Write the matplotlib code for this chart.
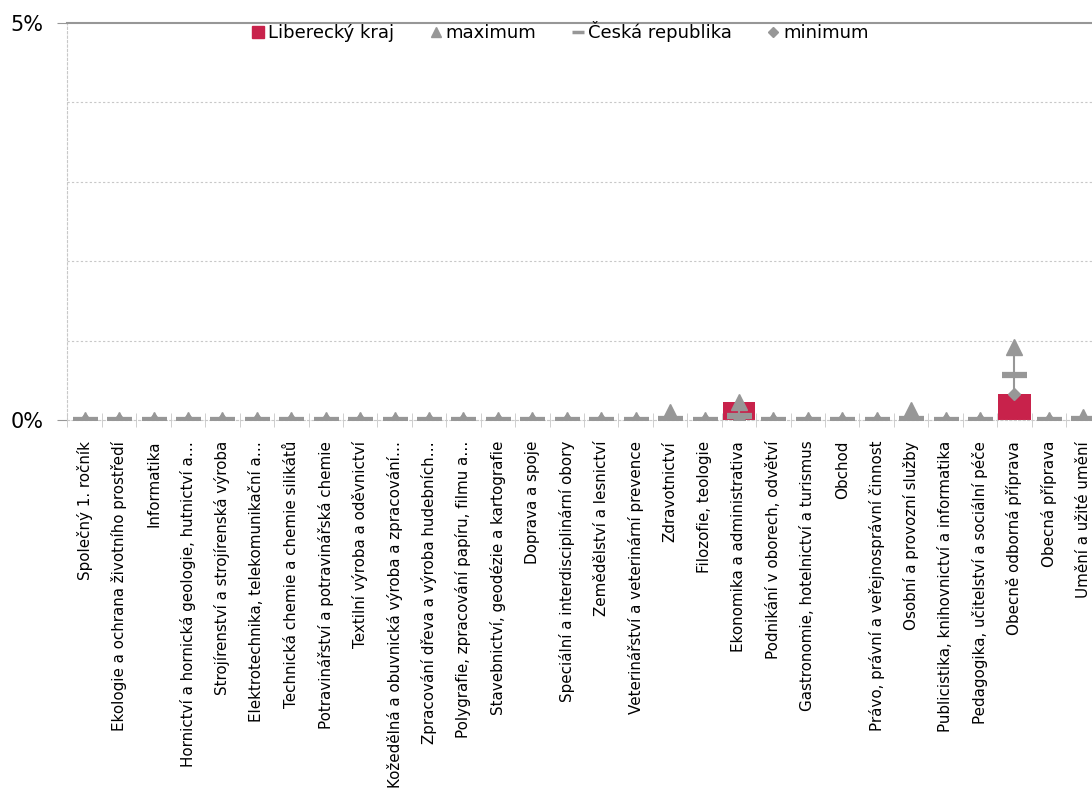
import numpy as np
import matplotlib
matplotlib.use("Agg")
import matplotlib.pyplot as plt
from matplotlib.lines import Line2D
from matplotlib.ticker import FixedLocator, FuncFormatter

obory = [
    "Společný 1. ročník",
    "Ekologie a ochrana životního prostředí",
    "Informatika",
    "Hornictví a hornická geologie, hutnictví a…",
    "Strojírenství a strojírenská výroba",
    "Elektrotechnika, telekomunikační a…",
    "Technická chemie a chemie silikátů",
    "Potravinářství a potravinářská chemie",
    "Textilní výroba a oděvnictví",
    "Kožedělná a obuvnická výroba a zpracování…",
    "Zpracování dřeva a výroba hudebních…",
    "Polygrafie, zpracování papíru, filmu a…",
    "Stavebnictví, geodézie a kartografie",
    "Doprava a spoje",
    "Speciální a interdisciplinární obory",
    "Zemědělství a lesnictví",
    "Veterinářství a veterinární prevence",
    "Zdravotnictví",
    "Filozofie, teologie",
    "Ekonomika a administrativa",
    "Podnikání v oborech, odvětví",
    "Gastronomie, hotelnictví a turismus",
    "Obchod",
    "Právo, právní a veřejnosprávní činnost",
    "Osobní a provozní služby",
    "Publicistika, knihovnictví a informatika",
    "Pedagogika, učitelství a sociální péče",
    "Obecně odborná příprava",
    "Obecná příprava",
    "Umění a užité umění",
]

# hodnoty v %
liberecky = [0, 0, 0, 0, 0, 0, 0, 0, 0, 0, 0, 0, 0, 0, 0, 0, 0, 0, 0, 0.22,
             0, 0, 0, 0, 0, 0, 0, 0.33, 0, 0]
maximum = [0, 0, 0, 0, 0, 0, 0, 0, 0, 0, 0, 0, 0, 0, 0, 0, 0, 0.10, 0, 0.22,
           0, 0, 0, 0, 0.12, 0, 0, 0.92, 0, 0.04]
cr = [0, 0, 0, 0, 0, 0, 0, 0, 0, 0, 0, 0, 0, 0, 0, 0, 0, 0.01, 0, 0.05,
      0, 0, 0, 0, 0.01, 0, 0, 0.57, 0, 0.01]
minimum = [0, 0, 0, 0, 0, 0, 0, 0, 0, 0, 0, 0, 0, 0, 0, 0, 0, 0, 0, 0,
           0, 0, 0, 0, 0, 0, 0, 0.33, 0, 0]

red = "#C8224B"
gray = "#979797"

fig = plt.figure(figsize=(10.92, 8.01), dpi=100)
ax = fig.add_axes([0.0618, 0.4757, 0.946, 0.4956])

x = np.arange(len(obory))
ax.bar(x, liberecky, width=0.95, color=red, zorder=2)
ax.vlines(x, minimum, maximum, color=gray, lw=1.5, zorder=3)
ax.plot(x, maximum, ls="none", marker="^", ms=12, color=gray, zorder=4)
ax.plot(x, cr, ls="none", marker="_", ms=18, mew=4.5, color=gray, zorder=5)
ax.plot(x, minimum, ls="none", marker="D", ms=6.5, color=gray, zorder=6)

ax.set_xlim(-0.5, len(obory) - 0.5)
ax.set_ylim(0, 5)

ax.yaxis.set_major_locator(FixedLocator([0, 5]))
ax.yaxis.set_minor_locator(FixedLocator([1, 2, 3, 4]))
ax.yaxis.set_major_formatter(FuncFormatter(lambda v, p: f"{v:.0f}%"))
ax.tick_params(axis="y", which="major", labelsize=15, length=7, color=gray, pad=10)
ax.tick_params(axis="y", which="minor", length=0)
ax.grid(axis="y", which="minor", color="#c8c8c8", ls=(0, (2, 2)), lw=0.8)

ax.set_xticks(x)
ax.set_xticklabels(obory, rotation=90, fontsize=10.9, va="top")
ax.tick_params(axis="x", which="major", length=0, pad=15)
ax.set_xticks(np.arange(-0.5, len(obory), 1), minor=True)
ax.tick_params(axis="x", which="minor", length=10, direction="inout", color="#c8c8c8")

for s in ["left", "bottom"]:
    ax.spines[s].set_color("#c8c8c8")
    ax.spines[s].set_linestyle((0, (2, 2)))
ax.spines["right"].set_visible(False)
ax.spines["top"].set_color(gray)
ax.spines["top"].set_linewidth(1.5)

handles = [
    Line2D([], [], ls="none", marker="s", ms=8.5, color=red),
    Line2D([], [], ls="none", marker="^", ms=7, color=gray),
    Line2D([], [], ls="none", marker="_", ms=8, mew=2.5, color=gray),
    Line2D([], [], ls="none", marker="D", ms=5, color=gray),
]
ax.legend(handles, ["Liberecký kraj", "maximum", "Česká republika", "minimum"],
          loc="upper center", bbox_to_anchor=(0.477, 1.045), ncol=4, frameon=False,
          fontsize=13, handlelength=0.7, handletextpad=0.2, columnspacing=1.95)

fig.savefig("out.png", dpi=100)
